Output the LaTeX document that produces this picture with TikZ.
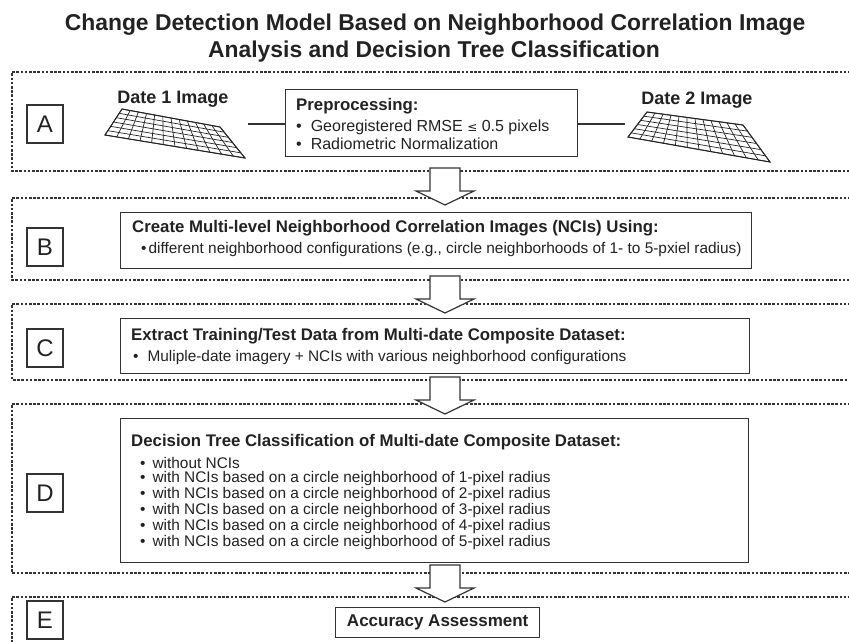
\documentclass[tikz,border=0pt]{standalone}
\usepackage{fontspec}
\setmainfont{Liberation Sans}
\usetikzlibrary{calc}

\definecolor{ink}{HTML}{222222}
\definecolor{frame}{HTML}{333333}

\tikzset{
  panel/.style={draw=frame, line width=1.3pt, dash pattern=on 2.6pt off 1.6pt},
  tag/.style={draw=frame, line width=1.2pt, minimum width=36pt, minimum height=38pt,
    inner sep=0pt, text=ink, font=\fontsize{24}{26}\selectfont},
  content/.style={draw=frame, line width=1.4pt, fill=white, inner sep=0pt, anchor=north west},
  head/.style={anchor=west, inner sep=0pt, text=ink, font=\bfseries\fontsize{16.8}{19}\selectfont},
  item/.style={anchor=west, inner sep=0pt, text=ink, font=\fontsize{15.4}{17}\selectfont},
  datelabel/.style={inner sep=0pt, text=ink, font=\bfseries\fontsize{18}{20}\selectfont},
  gridline/.style={draw=ink, line width=0.7pt},
  link/.style={draw=frame, line width=1.2pt},
  pics/downarrow/.style={code={
    \draw[draw=frame, line width=1.2pt, fill=white, line join=miter]
      (-15,0) -- (15,0) -- (15,23) -- (29,23) -- (0,37) -- (-29,23) -- (-15,23) -- cycle;
  }}
}

\newcommand{\bul}[1]{\textbullet\hspace{#1}}

\begin{document}
\begin{tikzpicture}[x=1pt,y=-1pt]
\useasboundingbox (0,0) rectangle (849,641);
\clip (0,0) rectangle (849,641);

% title
\node[text=ink, font=\bfseries\fontsize{22.9}{25}\selectfont] (title1) at (435,25)
  {Change Detection Model Based on Neighborhood Correlation Image};
\node[text=ink, font=\bfseries\fontsize{22.9}{25}\selectfont] (title2) at (434,52)
  {Analysis and Decision Tree Classification};

% dashed stage panels (open to the right)
\draw[panel] (880,72) -- (12,72) -- (12,171) -- (880,171);
\draw[panel] (880,198) -- (12,198) -- (12,280) -- (880,280);
\draw[panel] (880,304) -- (12,304) -- (12,380) -- (880,380);
\draw[panel] (880,404) -- (12,404) -- (12,573) -- (880,573);
\draw[panel] (880,597) -- (12,597) -- (12,660);

% stage tags
\node[tag] (tA) at (45,124) {A};
\node[tag] (tB) at (45,247) {B};
\node[tag] (tC) at (45,348) {C};
\node[tag] (tD) at (45,493) {D};
\node[tag] (tE) at (45,620) {E};

% stage A: two image grids and preprocessing
\node[datelabel] (d1lab) at (173,99) {Date 1 Image};
\node[datelabel] (d2lab) at (697,100) {Date 2 Image};

\coordinate (d1tl) at (122,109); \coordinate (d1tr) at (220,127);
\coordinate (d1br) at (245,158); \coordinate (d1bl) at (105,135);
\coordinate (d2tl) at (647,112); \coordinate (d2tr) at (743,125);
\coordinate (d2br) at (770,162); \coordinate (d2bl) at (628,137);

\foreach \g in {d1,d2}{
  \foreach \i in {0,...,12}
    \draw[gridline] ($(\g tl)!\i/12!(\g tr)$) -- ($(\g bl)!\i/12!(\g br)$);
  \foreach \j in {0,...,6}
    \draw[gridline] ($(\g tl)!\j/6!(\g bl)$) -- ($(\g tr)!\j/6!(\g br)$);
  \draw[gridline, line width=1pt] (\g tl) -- (\g tr) -- (\g br) -- (\g bl) -- cycle;
}
\coordinate (d1out) at (248,124);
\coordinate (d2in) at (625,124);

\node[content, minimum width=292pt, minimum height=67pt] (prep) at (285,89) {};
\node[head] (prepT) at (296,106) {Preprocessing:};
\node[item, font=\fontsize{16}{18}\selectfont] (prep1) at (296,127)
  {\bul{9pt}Georegistered RMSE {\fontspec{DejaVu Sans}\fontsize{12}{14}\selectfont ≤} 0.5 pixels};
\node[item, font=\fontsize{16}{18}\selectfont] (prep2) at (296,144)
  {\bul{9pt}Radiometric Normalization};

\draw[link] (d1out) -- (d1out -| prep.west);
\draw[link] (d2in -| prep.east) -- (d2in);

% stage B
\node[content, minimum width=631pt, minimum height=56pt] (boxB) at (120,212) {};
\node[head] (bT) at (132,228) {Create Multi-level Neighborhood Correlation Images (NCIs) Using:};
\node[item] (b1) at (141,250) {\bul{2pt}different neighborhood configurations (e.g., circle neighborhoods of 1- to 5-pxiel radius)};

% stage C
\node[content, minimum width=629pt, minimum height=55pt] (boxC) at (120,318) {};
\node[head] (cT) at (131,336) {Extract Training/Test Data from Multi-date Composite Dataset:};
\node[item] (c1) at (133,358) {\bul{9pt}Muliple-date imagery + NCIs with various neighborhood configurations};

% stage D
\node[content, minimum width=628pt, minimum height=144pt] (boxD) at (120,418) {};
\node[head] (dT) at (131,442) {Decision Tree Classification of Multi-date Composite Dataset:};
\node[item] (d1) at (140,463) {\bul{7pt}without NCIs};
\node[item] (d2) at (140,479) {\bul{7pt}with NCIs based on a circle neighborhood of 1-pixel radius};
\node[item] (d3) at (140,495) {\bul{7pt}with NCIs based on a circle neighborhood of 2-pixel radius};
\node[item] (d4) at (140,511) {\bul{7pt}with NCIs based on a circle neighborhood of 3-pixel radius};
\node[item] (d5) at (140,527) {\bul{7pt}with NCIs based on a circle neighborhood of 4-pixel radius};
\node[item] (d6) at (140,543) {\bul{7pt}with NCIs based on a circle neighborhood of 5-pixel radius};

% stage E
\node[content, minimum width=204pt, minimum height=30pt] (boxE) at (335,607) {};
\node[text=ink, inner sep=0pt, font=\bfseries\fontsize{17}{19}\selectfont] (eT) at (boxE.center) {Accuracy Assessment};

% flow arrows between stages
\pic at (445,168) {downarrow};
\pic at (445,276) {downarrow};
\pic at (445,377) {downarrow};
\pic at (445,565) {downarrow};
\end{tikzpicture}
\end{document}
